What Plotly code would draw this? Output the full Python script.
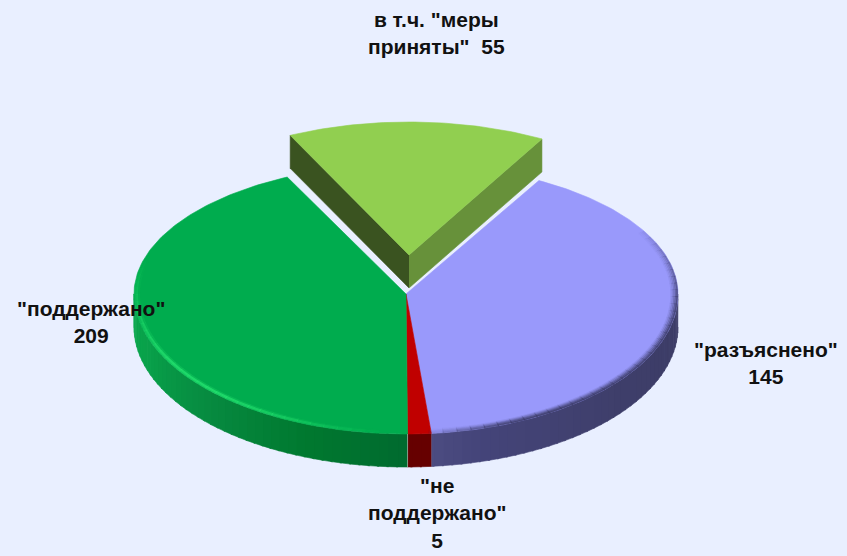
import numpy as np
import plotly.graph_objects as go

# Data: the "меры приняты" sector is part of "поддержано", so the green
# sector is drawn with the remainder while its label shows the full count.
categories = ['в т.ч. "меры<br>приняты"\u00a0\u00a055', '"разъяснено"<br>145', '"не<br>поддержано"<br>5', '"поддержано"<br>209']
shown_values = [55, 145, 5, 209]
sector_values = [55, 145, 5, 154]
top_colors = ["#91CF50", "#9999FB", "#C00000", "#00AC4E"]
label_x = [436, 766, 437, 91]
label_y = [33, 363, 513, 322]

BG = "#E9EFFF"
W, H = 847, 556
CX, CY = 406, 294       # pie centre
RX, RY_BACK, RY_FRONT = 272, 130, 140
DEPTH = 33
EXPLODE = (3, -39)
START = -25.9


def rgb(h):
    return np.array([int(h[i:i + 2], 16) for i in (1, 3, 5)], float)


def mix(stops, t):
    ts = [s[0] for s in stops]
    c = [np.interp(t, ts, [rgb(s[1])[k] for s in stops]) for k in range(3)]
    return "rgb(%d,%d,%d)" % tuple(c)


def ell(t, cx=CX, cy=CY, inset=0.0, ry_back=RY_BACK):
    r = np.radians(t)
    c = np.cos(r)
    ry = np.where(c > 0, ry_back, RY_FRONT) - inset * 0.6
    return cx + (RX - inset) * np.sin(r), cy - ry * c


fig = go.Figure()


def poly(x, y, color):
    fig.add_trace(go.Scatter(x=list(x), y=list(y), mode="lines", fill="toself",
                             fillcolor=color, line=dict(color=color, width=0.6),
                             hoverinfo="skip", showlegend=False))


def seg(x, y, color, width):
    fig.add_trace(go.Scatter(x=list(x), y=list(y), mode="lines",
                             line=dict(color=color, width=width),
                             hoverinfo="skip", showlegend=False))


# sector angles from the values
total = sum(sector_values)
edges = START + np.cumsum([0] + sector_values) * 360.0 / total

wall_stops = {
    1: [(90, "#3C3C66"), (130, "#3F3F6B"), (165, "#45457A"), (182, "#525288")],
    2: [(170, "#660000"), (190, "#660000")],
    3: [(178, "#006A2F"), (200, "#00782F"), (225, "#078A40"), (250, "#09A04A"), (272, "#0AAA4E")],
}

# outer walls of the sectors that stay in place
for i in (1, 2, 3):
    a0, a1 = max(edges[i], 90), min(edges[i + 1], 270)
    ts = np.arange(a0, a1, 2.0)
    ts = np.append(ts, a1)
    for t0, t1 in zip(ts[:-1], ts[1:]):
        tt = np.linspace(t0, t1 + (0.4 if t1 < a1 else 0), 4)
        x, y = ell(tt)
        poly(np.r_[x, x[::-1]], np.r_[y, y[::-1] + DEPTH], mix(wall_stops[i], (t0 + t1) / 2))

# top faces
for i in (1, 2, 3):
    tt = np.linspace(edges[i], edges[i + 1], 160)
    x, y = ell(tt)
    poly(np.r_[CX, x, CX], np.r_[CY, y, CY], top_colors[i])

# soft rim shading on the top faces (outer layers drawn last)
purple_rim = [(6.5, 0.10, 2), (5.0, 0.22, 2), (3.5, 0.38, 2), (2.0, 0.58, 2), (0.7, 0.8, 1.6)]
for inset, a, w in purple_rim:
    ts = np.arange(58, edges[2], 3.0)
    for t0 in ts:
        f = np.clip(min((t0 - 58) / 35, (edges[2] - t0) / 20, 1), 0, 1)
        x, y = ell(np.linspace(t0, t0 + 3.2, 3), inset=inset)
        seg(x, y, "rgba(60,60,105,%.2f)" % (a * f), w)

for inset, a, w in [(5.0, 0.25, 2), (3.0, 0.8, 2), (1.2, 0.55, 1.6)]:
    ts = np.arange(edges[3] + 3, 285, 3.0)
    for t0 in ts:
        f = np.clip(min((t0 - 183) / 40, (285 - t0) / 45, 1), 0, 1)
        x, y = ell(np.linspace(t0, t0 + 3.2, 3), inset=inset)
        seg(x, y, "rgba(38,226,112,%.2f)" % (a * f), w)

# thin seam between green and red walls
sx, sy = ell(np.array([edges[3]]))
seg([sx[0], sx[0]], [sy[0], sy[0] + DEPTH], "#7FA08A", 1)

# exploded sector: two cut faces and the top
ecx, ecy = CX + EXPLODE[0], CY + EXPLODE[1]
lx, ly = ell(np.array([edges[0]]), ecx, ecy, ry_back=RY_BACK + 3)
rx, ry = ell(np.array([edges[1]]), ecx, ecy, ry_back=RY_BACK + 3)
poly([ecx, lx[0], lx[0], ecx], [ecy, ly[0], ly[0] + DEPTH, ecy + DEPTH], "#3A5320")
poly([ecx, rx[0], rx[0], ecx], [ecy, ry[0], ry[0] + DEPTH, ecy + DEPTH], "#67913A")
tt = np.linspace(edges[0], edges[1], 60)
x, y = ell(tt, ecx, ecy, ry_back=RY_BACK + 3)
poly(np.r_[ecx, x, ecx], np.r_[ecy, y, ecy], top_colors[0])

for txt, lxp, lyp in zip(categories, label_x, label_y):
    fig.add_annotation(x=lxp, y=lyp, text=txt, showarrow=False, align="center",
                       font=dict(family="Liberation Sans", size=21, color="#111111", weight="bold"))

fig.update_layout(
    width=W, height=H, margin=dict(l=0, r=0, t=0, b=0),
    paper_bgcolor=BG, plot_bgcolor=BG, showlegend=False,
    xaxis=dict(range=[0, W], visible=False, fixedrange=True),
    yaxis=dict(range=[H, 0], visible=False, fixedrange=True),
)
fig.write_html("out.html", config={"displayModeBar": False},
               post_script="document.documentElement.style.background='#E9EFFF';"
                           "document.body.style.margin='0';"
                           "document.body.style.background='#E9EFFF';"
                           "document.documentElement.style.overflow='hidden';")
